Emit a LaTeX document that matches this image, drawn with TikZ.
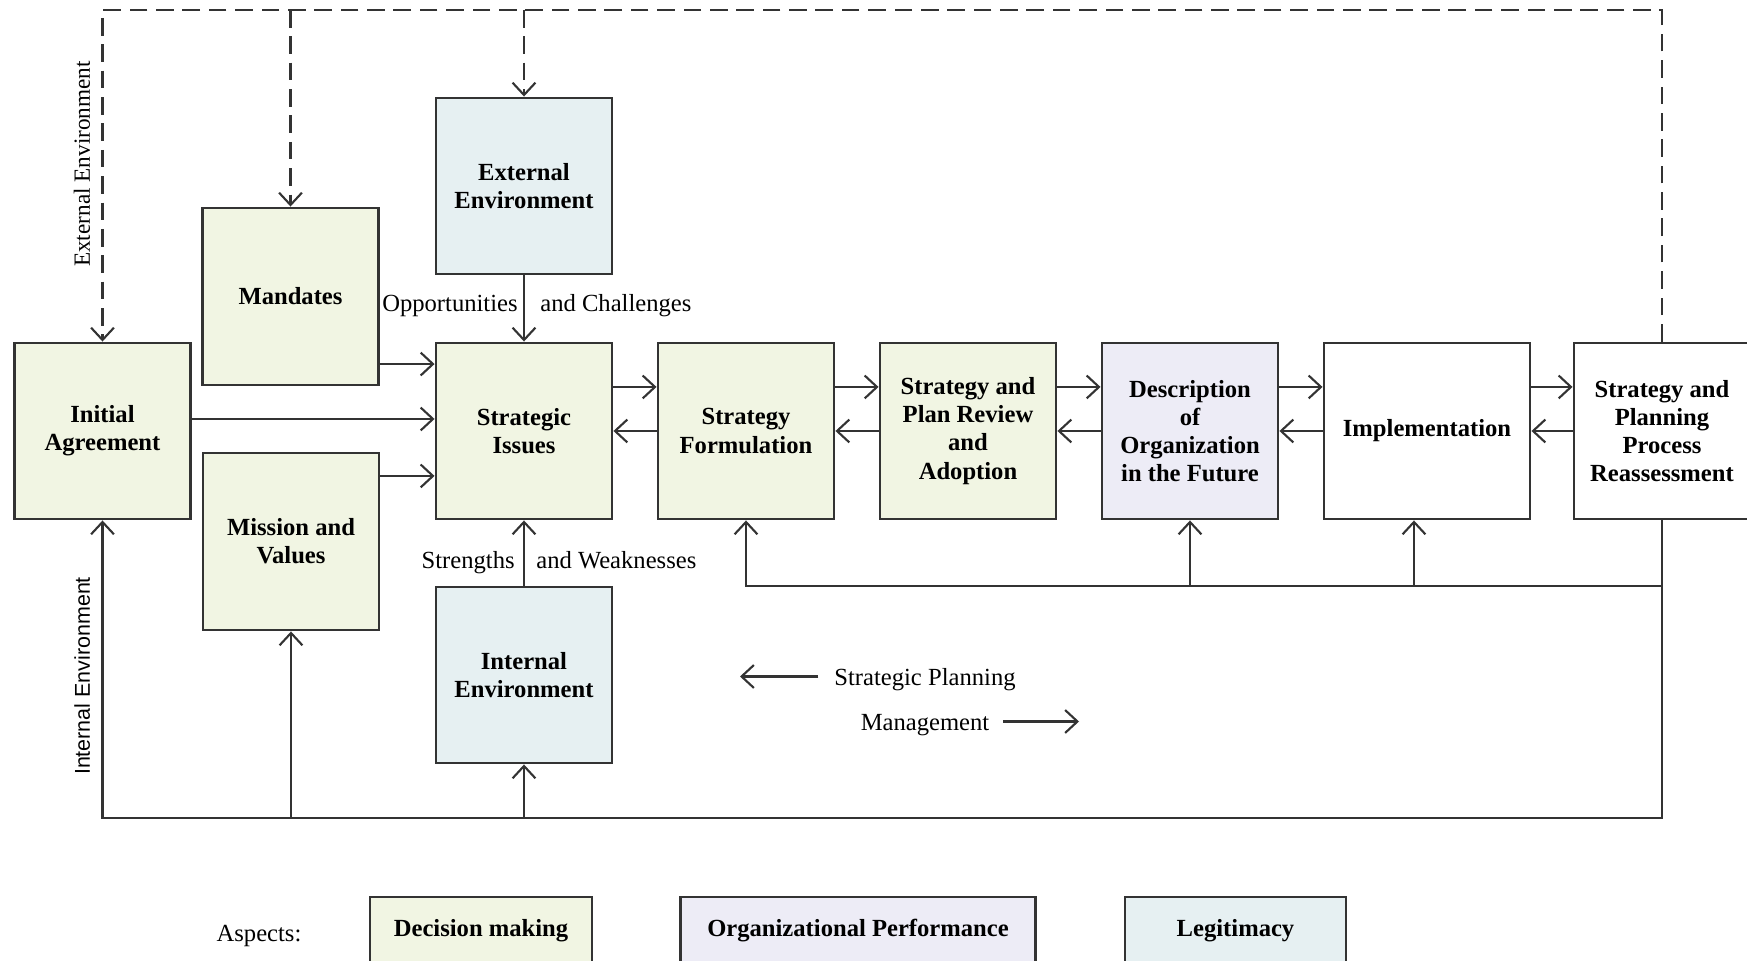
\documentclass[tikz,border=0pt]{standalone}
\usepackage{fontspec}
\setmainfont{Liberation Serif}
\newfontfamily\arialfont{Liberation Sans}
\usetikzlibrary{arrows.meta}
\definecolor{decgreen}{HTML}{F1F5E3}
\definecolor{perflilac}{HTML}{EDECF6}
\definecolor{legblue}{HTML}{E6F0F2}
\definecolor{lineg}{HTML}{333333}
\tikzset{
  blk/.style={draw=lineg, line width=0.8pt, minimum width=1.76cm, minimum height=1.76cm, align=center, inner sep=1pt, font=\bfseries\fontsize{7}{8}\selectfont},
  arr/.style={draw=lineg, line width=0.6pt, -{Straight Barb[length=3.5pt,width=6.5pt]}},
  dsh/.style={dash pattern=on 5pt off 2.5pt},
  lbl/.style={font=\fontsize{7}{8}\selectfont, inner sep=1.5pt, text height=0.7em, text depth=0.2em},
}

\begin{document}
\begin{tikzpicture}[x=0.01cm, y=-0.01cm]
			%%%%% START %%%%%
			\useasboundingbox (0,0) rectangle (1747,961);
			\clip (0,0) rectangle (1747,961);
			
			\node[blk, fill=decgreen] (ia) at (102.5,431) {Initial\\Agreement};
			\node[blk, fill=decgreen, minimum height=1.77cm] (man) at (290.5,296.5) {Mandates};
			\node[blk, fill=decgreen, minimum height=1.77cm] (mv) at (291,541.5) {Mission and\\Values};
			\node[blk, fill=legblue] (ee) at (524,186) {External\\Environment};
			\node[blk, fill=decgreen] (si) at (524,431) {Strategic\\Issues};
			\node[blk, fill=legblue] (ie) at (524,675) {Internal\\Environment};
			\node[blk, fill=decgreen] (sf) at (746,431) {Strategy\\Formulation};
			\node[blk, fill=decgreen] (pr) at (968,431) {Strategy and\\Plan Review\\and\\Adoption};
			\node[blk, fill=perflilac] (df) at (1190,431) {Description\\of\\Organization\\in the Future};
			\node[blk, fill=white, minimum width=2.06cm] (im) at (1427,431) {Implementation};
			\node[blk, fill=white] (rp) at (1662,431) {Strategy and\\Planning\\Process\\Reassessment};
			
			\node[lbl, rotate=90, font=\fontsize{6.6}{8}\selectfont] (extl) at (81,164) {External Environment};
			\node[lbl, rotate=90, font=\arialfont\fontsize{6.1}{8}\selectfont] (intl) at (81,676) {Internal Environment};
			
			\coordinate (top) at (0,10);
			\coordinate (mid) at (0,586);
			\coordinate (bot) at (0,818);
			
			% dashed environment lines
			\draw[arr, dsh] (rp.north) -- (rp.north |- top) -- (ia.north |- top) -- (ia.north);
			\draw[arr, dsh] (man.north |- top) -- (man.north);
			\draw[arr, dsh] (ee.north |- top) -- (ee.north);
			
			% inputs to strategic issues
			\draw[arr] ([yshift=-0.675cm]man.east) coordinate (m1) -- (m1 -| si.west);
			\draw[arr] ([yshift=0.12cm]ia.east) coordinate (i1) -- (i1 -| si.west);
			\draw[arr] ([yshift=0.655cm]mv.east) coordinate (v1) -- (v1 -| si.west);
			\draw[arr] (ee) -- (si) node[lbl, pos=0.41, left] {Opportunities} node[lbl, pos=0.41, right, xshift=0.1cm] {and Challenges};
			\draw[arr] (ie) -- (si) node[lbl, pos=0.39, left, xshift=-0.03cm] {Strengths} node[lbl, pos=0.39, right, xshift=0.06cm] {and Weaknesses};
			
			% main row
			\foreach \a/\b in {si/sf, sf/pr, pr/df, df/im, im/rp}{
				\draw[arr] ([yshift=0.44cm]\a.east) coordinate (u1) -- (u1 -| \b.west);
				\draw[arr] (\b.west) -- (\a.east);
			}
			
			% feedback lines
			\draw[arr] (rp.south) -- (rp.south |- bot) -- (ia.south |- bot) -- (ia.south);
			\draw[arr] (mv.south |- bot) -- (mv.south);
			\draw[arr] (ie.south |- bot) -- (ie.south);
			\draw[arr] (rp.south |- mid) -- (sf.south |- mid) -- (sf.south);
			\draw[arr] (df.south |- mid) -- (df.south);
			\path ([xshift=-0.13cm]im.south) coordinate (im1);
			\draw[arr] (im1 |- mid) -- (im1);
			
			% direction key
			\node[lbl] (sp) at (925,676.5) {Strategic Planning};
			\coordinate (spa) at (740,676.5);
			\draw[arr] ([xshift=-0.1cm]sp.west) -- (spa);
			\node[lbl] (mg) at (925,721.5) {Management};
			\coordinate (mga) at (1079,721.5);
			\draw[arr] ([xshift=0.08cm]mg.east) -- (mga);
			
			% aspects
			\node[lbl] (asp) at (259,932.5) {Aspects:};
			\node[blk, fill=decgreen, minimum width=2.22cm, minimum height=0.68cm] (dm) at (481,931) {Decision making};
			\node[blk, fill=perflilac, minimum width=3.54cm, minimum height=0.68cm] (op) at (858,931) {Organizational Performance};
			\node[blk, fill=legblue, minimum width=2.21cm, minimum height=0.68cm] (lg) at (1235.5,931) {Legitimacy};
			%%%%% END %%%%%
\end{tikzpicture}
\end{document}
